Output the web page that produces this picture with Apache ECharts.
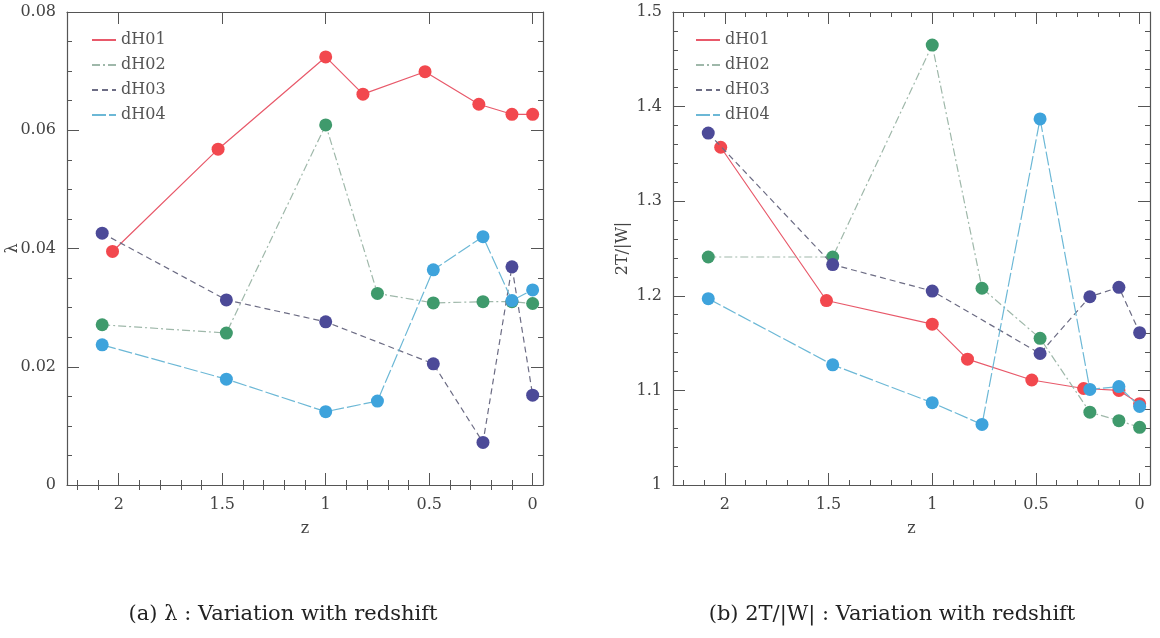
<!DOCTYPE html>
<html>
<head>
<meta charset="utf-8">
<script src="https://cdn.jsdelivr.net/npm/echarts@6/dist/echarts.min.js"></script>
<style>
html,body{margin:0;padding:0;background:#fff;}
#chart{width:1160px;height:638px;}
</style>
</head>
<body>
<div id="chart"></div>
<script>
// ---- data ----
const seriesNames = ['dH01', 'dH02', 'dH03', 'dH04'];
const zMajor = [0, 0.5, 1, 1.5, 2];
const zMinor = [0.1,0.2,0.3,0.4,0.6,0.7,0.8,0.9,1.1,1.2,1.3,1.4,1.6,1.7,1.8,1.9,2.1,2.2];

// (a) lambda vs z
const lamZ01 = [2.03, 1.52, 1.0, 0.82, 0.52, 0.26, 0.10, 0.0];
const lamDH01 = [0.0395, 0.0568, 0.0724, 0.0661, 0.0699, 0.0644, 0.0627, 0.0627];
const lamZ02 = [2.08, 1.48, 1.0, 0.75, 0.48, 0.24, 0.10, 0.0];
const lamDH02 = [0.0271, 0.0257, 0.0609, 0.0324, 0.0308, 0.0310, 0.0310, 0.0307];
const lamZ03 = [2.08, 1.48, 1.0, 0.48, 0.24, 0.10, 0.0];
const lamDH03 = [0.0426, 0.0313, 0.0276, 0.0205, 0.0072, 0.0369, 0.0152];
const lamZ04 = [2.08, 1.48, 1.0, 0.75, 0.48, 0.24, 0.10, 0.0];
const lamDH04 = [0.0237, 0.0179, 0.0124, 0.0142, 0.0364, 0.0420, 0.0312, 0.0330];

// (b) 2T/|W| vs z
const twZ01 = [2.02, 1.51, 1.0, 0.83, 0.52, 0.27, 0.10, 0.0];
const twDH01 = [1.357, 1.195, 1.170, 1.133, 1.111, 1.102, 1.100, 1.086];
const twZ02 = [2.08, 1.48, 1.0, 0.76, 0.48, 0.24, 0.10, 0.0];
const twDH02 = [1.241, 1.241, 1.465, 1.208, 1.155, 1.077, 1.068, 1.061];
const twZ03 = [2.08, 1.48, 1.0, 0.48, 0.24, 0.10, 0.0];
const twDH03 = [1.372, 1.233, 1.205, 1.139, 1.199, 1.209, 1.161];
const twZ04 = [2.08, 1.48, 1.0, 0.76, 0.48, 0.24, 0.10, 0.0];
const twDH04 = [1.197, 1.127, 1.087, 1.064, 1.387, 1.101, 1.104, 1.083];

const captionA = '(a) λ : Variation with redshift';
const captionB = '(b) 2T/|W| : Variation with redshift';

// ---- styles ----
const FONT = 'DejaVu Serif';
const AX = '#555';
const lineColors = ['#e8596a', '#9fb8aa', '#6c6c84', '#6cb8d6'];
const lineTypes = ['solid', [8, 3, 2, 3], [6, 4], [14, 3]];
const markerColors = ['#f2484e', '#3f9a6c', '#4c4a98', '#3ea3dc'];

function zip(a, b) { return a.map((v, i) => [v, b[i]]); }

function xAxes(gi) {
  const base = { gridIndex: gi, type: 'value', min: -0.05, max: 2.25, inverse: true, splitLine: { show: false } };
  return [
    Object.assign({}, base, {
      position: 'bottom', name: 'z', nameLocation: 'middle', nameGap: 36,
      nameTextStyle: { fontFamily: FONT, fontSize: 16, color: '#444' },
      axisLine: { show: true, onZero: false, lineStyle: { color: AX, width: 1.2 } },
      axisTick: { show: true, inside: true, length: 12, customValues: zMajor, lineStyle: { color: AX } },
      axisLabel: { show: true, customValues: zMajor, margin: 12, fontFamily: FONT, fontSize: 16, color: '#444' }
    }),
    Object.assign({}, base, {
      position: 'bottom',
      axisLine: { show: false },
      axisTick: { show: true, inside: true, length: 5, customValues: zMinor, lineStyle: { color: AX } },
      axisLabel: { show: false }
    }),
    Object.assign({}, base, {
      position: 'top',
      axisLine: { show: true, onZero: false, lineStyle: { color: AX, width: 1.2 } },
      axisTick: { show: true, inside: true, length: 12, customValues: zMajor, lineStyle: { color: AX } },
      axisLabel: { show: false }
    }),
    Object.assign({}, base, {
      position: 'top',
      axisLine: { show: false },
      axisTick: { show: true, inside: true, length: 5, customValues: zMinor, lineStyle: { color: AX } },
      axisLabel: { show: false }
    })
  ];
}

function yAxes(gi, min, max, interval, minorSplit, name, nameGap, fmt) {
  const base = {
    gridIndex: gi, type: 'value', min: min, max: max, interval: interval, splitLine: { show: false },
    axisLine: { show: true, onZero: false, lineStyle: { color: AX, width: 1.2 } },
    axisTick: { show: true, inside: true, length: 12, lineStyle: { color: AX } },
    minorTick: { show: true, splitNumber: minorSplit, length: 5, lineStyle: { color: AX } }
  };
  return [
    Object.assign({}, base, {
      position: 'left', name: name, nameLocation: 'middle', nameGap: nameGap, nameRotate: 90,
      nameMoveOverlap: false,
      nameTextStyle: { fontFamily: FONT, fontSize: 16, color: '#444' },
      axisLabel: { show: true, margin: 11, fontFamily: FONT, fontSize: 16, color: '#444', formatter: fmt }
    }),
    Object.assign({}, base, { position: 'right', axisLabel: { show: false } })
  ];
}

function mkSeries(name, idx, gi, zs, vs) {
  return {
    name: name, type: 'line', xAxisIndex: gi * 4, yAxisIndex: gi * 2,
    data: zip(zs, vs),
    symbol: 'circle', symbolSize: 13, showSymbol: true,
    lineStyle: { color: lineColors[idx], width: 1.2, type: lineTypes[idx] },
    itemStyle: { color: markerColors[idx] },
    z: 2 + idx, animation: false
  };
}

const legendBase = {
  orient: 'vertical', itemWidth: 24, itemHeight: 14, itemGap: 9,
  textStyle: { fontFamily: FONT, fontSize: 16, color: '#555' },
  itemStyle: { opacity: 0 },
  data: seriesNames
};

const option = {
  animation: false,
  backgroundColor: '#fff',
  grid: [
    { left: 67, width: 476, top: 12, height: 473 },
    { left: 673, width: 477, top: 12, height: 473 }
  ],
  xAxis: xAxes(0).concat(xAxes(1)),
  yAxis: yAxes(0, 0, 0.08, 0.02, 4, 'λ', 46, v => v === 0 ? '0' : v.toFixed(2))
    .concat(yAxes(1, 1, 1.5, 0.1, 5, '2T/|W|', 42, v => v === 1 ? '1' : v.toFixed(1))),
  legend: [
    Object.assign({}, legendBase, { left: 86, top: 27 }),
    Object.assign({}, legendBase, { left: 690, top: 27 })
  ],
  series: [
    mkSeries('dH01', 0, 0, lamZ01, lamDH01),
    mkSeries('dH02', 1, 0, lamZ02, lamDH02),
    mkSeries('dH03', 2, 0, lamZ03, lamDH03),
    mkSeries('dH04', 3, 0, lamZ04, lamDH04),
    mkSeries('dH01', 0, 1, twZ01, twDH01),
    mkSeries('dH02', 1, 1, twZ02, twDH02),
    mkSeries('dH03', 2, 1, twZ03, twDH03),
    mkSeries('dH04', 3, 1, twZ04, twDH04)
  ],
  graphic: [
    { type: 'text', x: 283, y: 615, style: { text: captionA, textAlign: 'center', textVerticalAlign: 'middle', font: '21px "DejaVu Serif"', fill: '#222' } },
    { type: 'text', x: 892, y: 615, style: { text: captionB, textAlign: 'center', textVerticalAlign: 'middle', font: '21px "DejaVu Serif"', fill: '#222' } }
  ]
};

const chart = echarts.init(document.getElementById('chart'), null, { renderer: 'canvas' });
chart.setOption(option);
</script>
</body>
</html>
